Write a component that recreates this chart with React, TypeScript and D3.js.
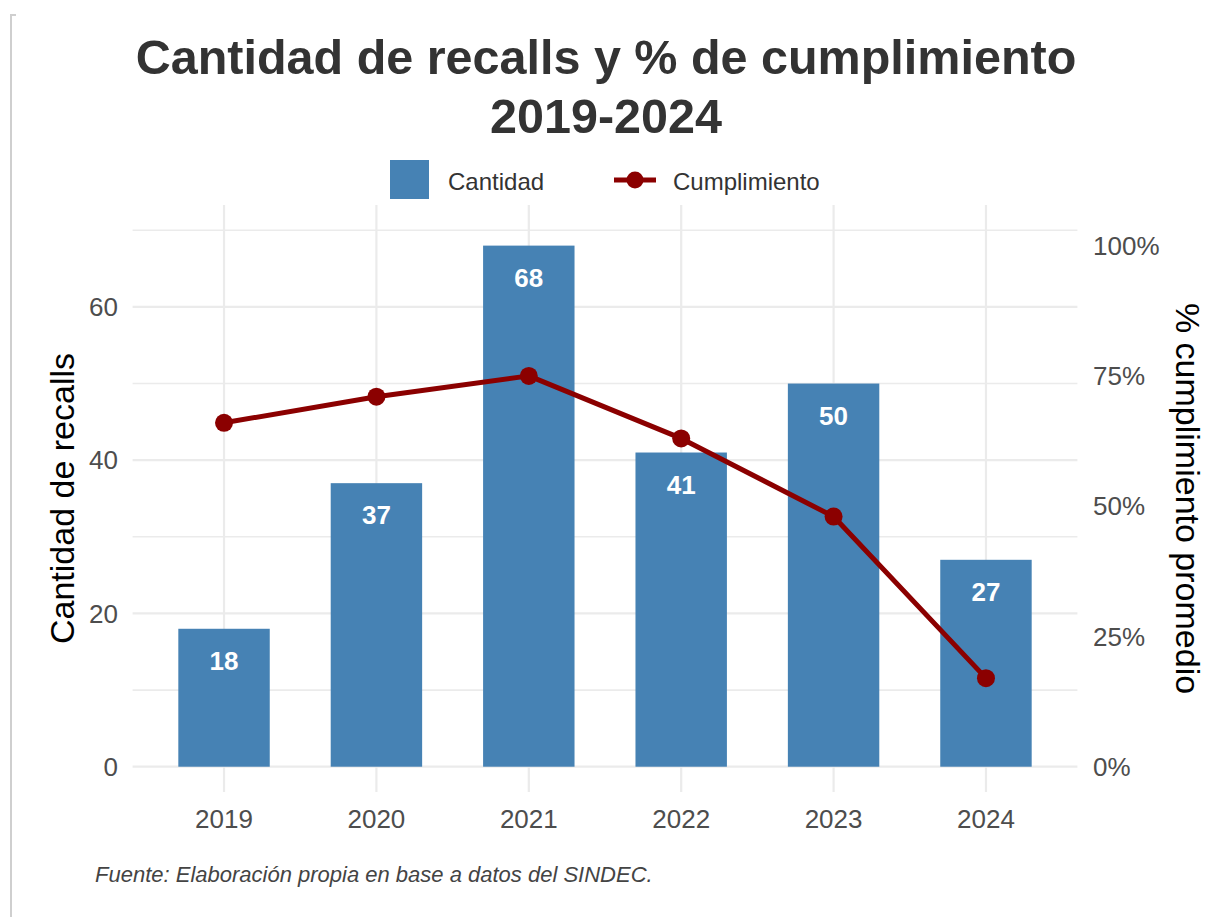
import * as d3 from 'd3'

const YEARS = ['2019', '2020', '2021', '2022', '2023', '2024']
const CANTIDAD = [18, 37, 68, 41, 50, 27]
const CUMPLIMIENTO = [66, 71, 75, 63, 48, 17]
const LEFT_TICKS = [0, 20, 40, 60]
const GRID_TICKS = [0, 10, 20, 30, 40, 50, 60, 70]
const RIGHT_TICKS = [0, 25, 50, 75, 100]

const W = 1227
const H = 917
const FONT = 'Liberation Sans, Arial, Helvetica, sans-serif'
const BAR = '#4682B4'
const LINE = '#8B0000'
const GRID = '#ebebeb'
const TICK = '#4d4d4d'

export default function App() {
  const panel = { left: 132.6, right: 1077.4, top: 205, bottom: 792 }
  const x = d3.scaleBand().domain(YEARS).range([panel.left, panel.right]).paddingInner(0.4).paddingOuter(0.3)
  const y = d3.scaleLinear().domain([-3.3, 73.3]).range([panel.bottom, panel.top])
  const maxCount = d3.max(CANTIDAD) as number
  // secondary axis: 100% sits at the tallest bar
  const yPct = d3.scaleLinear().domain([0, 100]).range([y(0), y(maxCount)])
  const cx = (yr: string) => (x(yr) as number) + x.bandwidth() / 2

  const linePts = YEARS.map((yr, i) => [cx(yr), yPct(CUMPLIMIENTO[i])] as [number, number])
  const lineGen = d3.line<[number, number]>()

  return (
    <svg width={W} height={H} style={{ position: 'absolute', left: 0, top: 0, background: '#fff' }} fontFamily={FONT}>
      {/* page frame edge */}
      <path d="M16,15 H11 V917" fill="none" stroke="#cfcfcf" strokeWidth={2} />

      {/* title */}
      <text x={606} y={74} textAnchor="middle" fontSize={48.5} fontWeight="bold" fill="#333">
        Cantidad de recalls y % de cumplimiento
      </text>
      <text x={606} y={133} textAnchor="middle" fontSize={48.5} fontWeight="bold" fill="#333">
        2019-2024
      </text>

      {/* legend */}
      <rect x={390} y={160} width={39} height={39} fill={BAR} />
      <text x={448} y={190} fontSize={24} fill="#333">Cantidad</text>
      <line x1={614} x2={656} y1={180} y2={180} stroke={LINE} strokeWidth={5} />
      <circle cx={635} cy={180} r={8.5} fill={LINE} />
      <text x={673} y={190} fontSize={24} fill="#333">Cumplimiento</text>

      {/* grid */}
      {GRID_TICKS.map((t) => (
        <line key={'h' + t} x1={panel.left} x2={panel.right} y1={y(t)} y2={y(t)}
          stroke={GRID} strokeWidth={t % 20 === 0 ? 2.2 : 1.6} />
      ))}
      {YEARS.map((yr) => (
        <line key={'v' + yr} x1={cx(yr)} x2={cx(yr)} y1={panel.top} y2={panel.bottom}
          stroke={GRID} strokeWidth={2.2} />
      ))}

      {/* bars */}
      {YEARS.map((yr, i) => (
        <rect key={'b' + yr} x={x(yr)} y={y(CANTIDAD[i])} width={x.bandwidth()}
          height={y(0) - y(CANTIDAD[i])} fill={BAR} />
      ))}
      {YEARS.map((yr, i) => (
        <text key={'l' + yr} x={cx(yr)} y={y(CANTIDAD[i]) + 41} textAnchor="middle"
          fontSize={26} fontWeight="bold" fill="#fff">{CANTIDAD[i]}</text>
      ))}

      {/* line */}
      <path d={lineGen(linePts) as string} fill="none" stroke={LINE} strokeWidth={5} strokeLinejoin="round" />
      {linePts.map((p, i) => (
        <circle key={'p' + i} cx={p[0]} cy={p[1]} r={9} fill={LINE} />
      ))}

      {/* left axis */}
      {LEFT_TICKS.map((t) => (
        <text key={'lt' + t} x={118} y={y(t)} dy="0.35em" textAnchor="end" fontSize={26} fill={TICK}>{t}</text>
      ))}
      {/* right axis */}
      {RIGHT_TICKS.map((t) => (
        <text key={'rt' + t} x={1093} y={yPct(t)} dy="0.35em" textAnchor="start" fontSize={26} fill={TICK}>{t + '%'}</text>
      ))}
      {/* bottom axis */}
      {YEARS.map((yr) => (
        <text key={'xt' + yr} x={cx(yr)} y={828} textAnchor="middle" fontSize={26} fill={TICK}>{yr}</text>
      ))}

      {/* axis titles */}
      <text transform={`translate(74,${(panel.top + panel.bottom) / 2}) rotate(-90)`} textAnchor="middle"
        fontSize={34} fill="#000">Cantidad de recalls</text>
      <text transform={`translate(1176,${(panel.top + panel.bottom) / 2}) rotate(90)`} textAnchor="middle"
        fontSize={34} fill="#000">% cumplimiento promedio</text>

      {/* caption */}
      <text x={95} y={882} fontSize={22} fontStyle="italic" fill="#444">
        Fuente: Elaboración propia en base a datos del SINDEC.
      </text>
    </svg>
  )
}
